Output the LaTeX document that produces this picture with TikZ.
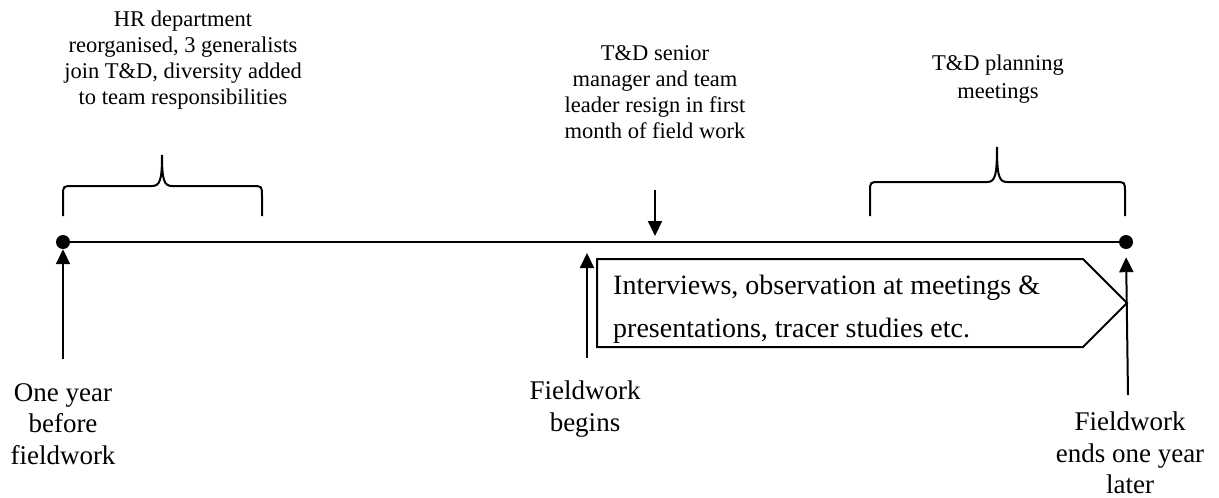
\documentclass[tikz,border=0pt]{standalone}
\usepackage{fontspec}
\setmainfont{Liberation Serif}
\usetikzlibrary{arrows.meta}
\tikzstyle{dot} = [circle, fill=black, inner sep=0pt, minimum size=14pt]
\tikzstyle{note} = [align=center, inner sep=0pt, font=\fontsize{22.5}{26}\selectfont]
\tikzstyle{milestone} = [align=center, inner sep=0pt, font=\fontsize{27}{31.5}\selectfont]
\tikzstyle{phase} = [rectangle, text width=454pt, inner xsep=16pt, inner ysep=0pt, align=flush left, font=\fontsize{28}{43}\selectfont]
\tikzstyle{arrow} = [line width=2pt, -{Triangle[length=15pt, width=14pt]}]
\tikzstyle{brace} = [line width=2pt]

\begin{document}
\begin{tikzpicture}[x=1pt, y=-1pt]
    \useasboundingbox (0,0) rectangle (1219,498);

    % time line
    \node (t0) [dot] at (63,242) {};
    \node (t2) [dot] at (1126,242) {};
    \draw[line width=2pt] (t0) -- (t2);
    \coordinate (t1) at (587,242);
    \coordinate (tr) at (655,242);

    % fieldwork phase
    \draw[line width=2pt] (597,259) -- (1083,259) -- (1127,303) -- (1083,347) -- (597,347) -- cycle;
    \node (interviews) [phase, anchor=west] at (597,309) {Interviews, observation at meetings \&\\presentations, tracer studies etc.};

    % milestones below the line
    \node (oneyear) [milestone] at (63,424) {One year\\before\\fieldwork};
    \node (fwbegin) [milestone] at (585,409) {Fieldwork\\begins};
    \node (fwend) [milestone] at (1130,453) {Fieldwork\\ends one year\\later};
    \coordinate (a0) at (63,359);
    \coordinate (a1) at (587,358);
    \coordinate (a2) at (1128,395);
    \draw[arrow] (a0) -- (t0.south);
    \draw[arrow, shorten >=11pt] (a1) -- (t1);
    \draw[arrow, shorten >=8pt] (a2) -- (t2.south);

    % events above the line
    \node (hrnote) [note] at (183,60) {HR department\\reorganised, 3 generalists\\join T\&D, diversity added\\to team responsibilities};
    \node (resign) [note] at (655,92) {T\&D senior\\manager and team\\leader resign in first\\month of field work};
    \node (planning) [note, font=\fontsize{22.5}{28}\selectfont] at (998,79) {T\&D planning\\meetings};
    \coordinate (r0) at (655,190);
    \draw[arrow, shorten >=6pt] (r0) -- (tr);

    % braces
    \draw[brace] (63,216) -- (63,196) .. controls (63,186) .. (73,186) -- (152,186)
        .. controls (160,186) and (162,180) .. (162,155)
        .. controls (162,180) and (164,186) .. (172,186) -- (252,186)
        .. controls (262,186) .. (262,196) -- (262,216);
    \draw[brace] (870,216) -- (870,192) .. controls (870,182) .. (880,182) -- (987,182)
        .. controls (995,182) and (997,176) .. (997,147)
        .. controls (997,176) and (999,182) .. (1007,182) -- (1115,182)
        .. controls (1125,182) .. (1125,192) -- (1125,216);
\end{tikzpicture}
\end{document}
